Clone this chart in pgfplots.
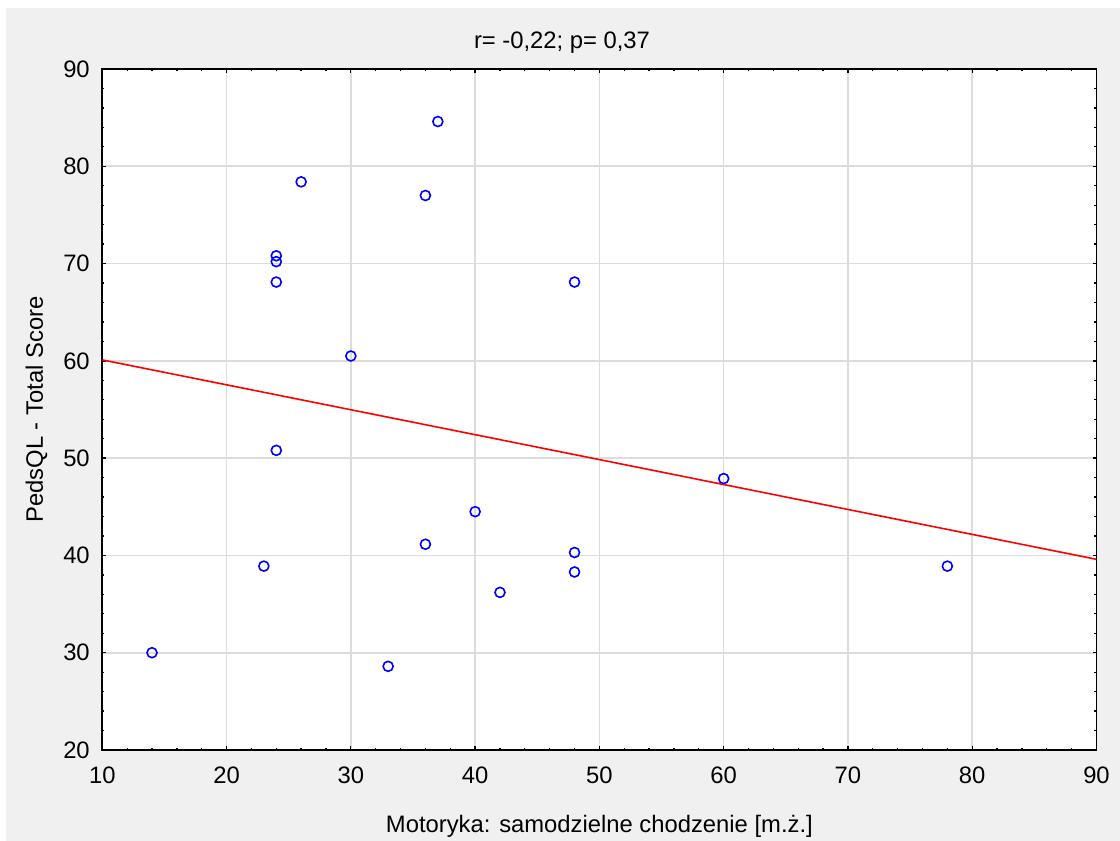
\documentclass[border=0pt]{standalone}
\usepackage{fontspec}
\setmainfont{Liberation Sans}
\usepackage{pgfplots}
\usepackage{pgfplotstable}
\pgfplotsset{compat=1.18}
\definecolor{panel}{HTML}{F0F0F0}
\definecolor{gridc}{HTML}{DCDCDC}
\pgfplotstableread{
x y
14 30.0
23 38.9
24 50.8
24 68.1
24 70.2
24 70.8
26 78.4
30 60.5
33 28.6
36 77.0
36 41.15
37 84.6
40 44.5
42 36.2
48 68.1
48 40.3
48 38.3
60 47.9
78 38.9
}\pts
\pgfplotstableread{
x y
10 60.1
90 39.6
}\fit
\newcommand{\lblfont}{\fontsize{11.9}{14}\selectfont}
\begin{document}
\begin{tikzpicture}
\useasboundingbox (-51.15pt,-45.5pt) rectangle (508.85pt,375pt);
\fill[white] (-51.15pt,-45.5pt) rectangle (508.85pt,375pt);
\fill[panel] (-48.15pt,-45.5pt) rectangle (508.85pt,371pt);
\begin{axis}[
  at={(0,0)}, anchor=south west,
  scale only axis, width=497.1pt, height=340.5pt,
  xmin=10, xmax=90, ymin=20, ymax=90,
  xtick={10,20,...,90}, ytick={20,30,...,90},
  minor tick num=4,
  tick align=inside, tick pos=both,
  major tick length=1.8pt, minor tick length=1.1pt,
  every tick/.style={black, line width=0.65pt},
  axis line style={black, line width=0.9pt},
  axis background/.style={fill=white},
  grid=major,
  major grid style={gridc, line width=0.8pt},
  /pgf/number format/assume math mode=true,
  tick label style={font=\lblfont},
  xticklabel style={yshift=-5pt},
  yticklabel style={xshift=-2.75pt},
  xlabel={Motoryka: samodzielne chodzenie [m.ż.]},
  ylabel={PedsQL - Total Score},
  title={r= -0,22; p= 0,37},
  every axis x label/.style={at={(axis description cs:0.5,0)}, anchor=base, yshift=-41.5pt, font=\lblfont},
  every axis y label/.style={at={([xshift=-29.65pt]axis description cs:0,0.5)}, anchor=base, rotate=90, font=\lblfont},
  every axis title/.style={at={(axis description cs:0.5,1)}, anchor=base, yshift=10.35pt, xshift=-18.7pt, font=\lblfont},
  clip=true,
]
\addplot[red, line width=0.8pt] table[x=x,y=y] {\fit};
\addplot[only marks, mark=o, mark size=2.5pt, blue, mark options={line width=0.8pt}] table[x=x,y=y] {\pts};
\end{axis}
\end{tikzpicture}
\end{document}
